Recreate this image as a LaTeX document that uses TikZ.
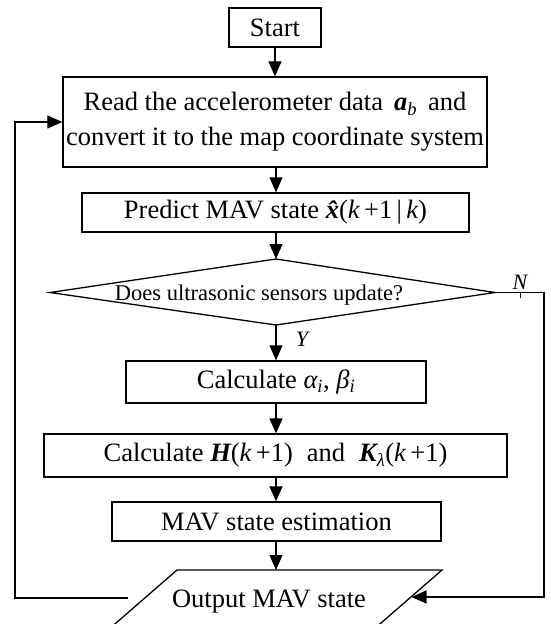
\documentclass[tikz,border=0pt]{standalone}
\usepackage{fontspec}
\setmainfont{Liberation Serif}
\usetikzlibrary{arrows.meta}
\newcommand{\bv}[1]{{\bfseries\itshape #1}}
\newcommand{\iv}[1]{{\itshape #1}}
\begin{document}
\begin{tikzpicture}[x=1pt,y=-1pt,
  box/.style={draw,line width=1.3pt,inner sep=0pt,align=center,font=\fontsize{26.5}{35}\selectfont},
  txt/.style={inner sep=0pt,anchor=base,font=\fontsize{26.5}{35}\selectfont},
  dtxt/.style={inner sep=0pt,anchor=base,font=\fontsize{22.5}{27}\selectfont},
  lbl/.style={inner sep=0pt,font=\fontsize{22}{26}\selectfont\itshape},
  arr/.style={line width=1.2pt,-{Triangle[length=15pt,width=13pt]}},
  ln/.style={line width=1.2pt},
  shp/.style={line width=1.3pt}]
\useasboundingbox (0,0) rectangle (551,624);
% boxes
\node[box,minimum width=92pt,minimum height=39pt] (start) at (275,27.5) {Start};
\node[box,minimum width=424pt,minimum height=90pt] (read) at (275,122) {Read the accelerometer data \,\bv{a}\textsubscript{\iv{b}}\, and\\convert it to the map coordinate system};
\node[box,minimum width=387pt,minimum height=39pt] (pred) at (275.5,212.5) {Predict MAV state \bv{\^{x}}(\iv{k}\,+1\,|\,\iv{k})};
% decision
\coordinate (dT) at (276,259);
\coordinate (dR) at (495,292.5);
\coordinate (dB) at (276,325);
\coordinate (dL) at (50,292.5);
\draw[shp] (dT) -- (dR) -- (dB) -- (dL) -- cycle;
\node[dtxt] (dec) at (259,300) {Does ultrasonic sensors update?};
\node[box,minimum width=300pt,minimum height=42pt] (calc) at (276,382) {Calculate \iv{α}\textsubscript{\iv{i}}, \iv{β}\textsubscript{\iv{i}}};
\node[box,minimum width=463pt,minimum height=43pt] (calcH) at (275.5,455.5) {Calculate \bv{H}(\iv{k}\,+1) \;and\; \bv{K}\textsubscript{\iv{λ}}(\iv{k}\,+1)};
\node[box,minimum width=329pt,minimum height=39pt] (est) at (276.5,521.5) {MAV state estimation};
% output parallelogram
\coordinate (oTL) at (177,570);
\coordinate (oTR) at (442,570);
\coordinate (oBR) at (373,630);
\coordinate (oBL) at (108,630);
\draw[shp] (oTL) -- (oTR) -- (oBR) -- (oBL) -- cycle;
\node[txt] (out) at (269,607) {Output MAV state};
\coordinate (oT) at (276,570);
\coordinate (oR) at (411.5,597);
\coordinate (oL) at (128,598);
\coordinate (nX) at (544,292.5);
\coordinate (lX) at (15,598);
% connectors
\draw[arr] (start.south) -- (read.north);
\draw[arr] (dT |- read.south) -- (dT |- pred.north);
\draw[arr] (dT |- pred.south) -- (dT);
\draw[arr] (dB) -- (dB |- calc.north);
\draw[arr] (dT |- calc.south) -- (dT |- calcH.north);
\draw[arr] (dT |- calcH.south) -- (dT |- est.north);
\draw[arr] (dT |- est.south) -- (oT);
\draw[arr] (dR) -- (nX) |- (oR);
\draw[arr] (oL) -- (lX) |- (read.west);
\draw[line width=0.8pt] (520,292.5) -- (520,298);
% labels
\node[lbl] (N) at (520,282) {N};
\node[lbl] (Y) at (302,339) {Y};
\end{tikzpicture}
\end{document}
